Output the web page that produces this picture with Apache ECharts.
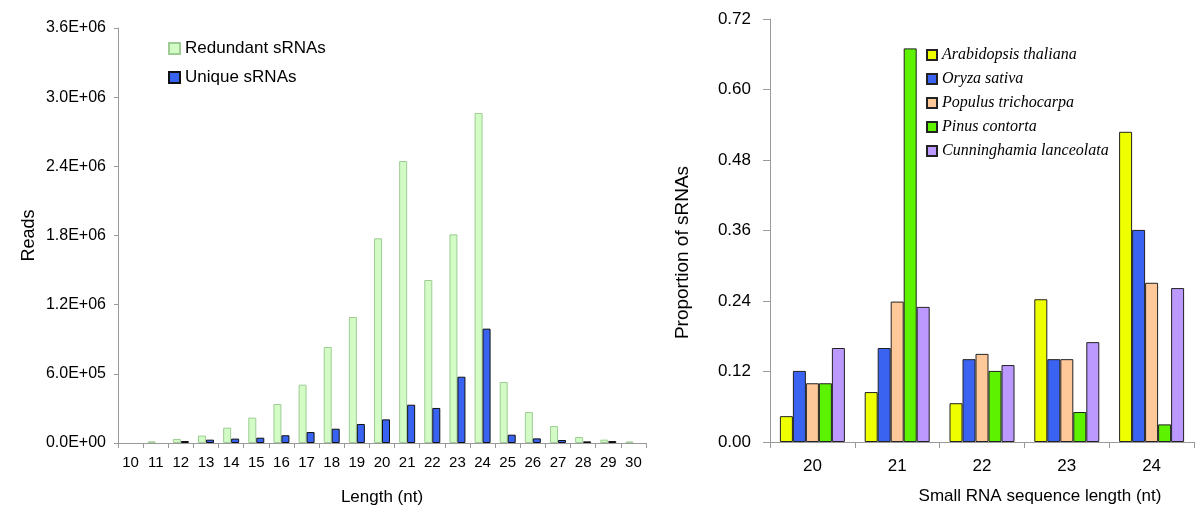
<!DOCTYPE html>
<html>
<head>
<meta charset="utf-8">
<script src="https://cdn.jsdelivr.net/npm/echarts@6/dist/echarts.min.js"></script>
<style>
html,body{margin:0;padding:0;background:#fff;}
#chart{width:1200px;height:522px;}
</style>
</head>
<body>
<div id="chart"></div>
<script>
// Left panel data (null = no bar drawn)
var lengthCategories = ['10','11','12','13','14','15','16','17','18','19','20','21','22','23','24','25','26','27','28','29','30'];
var redundantReads = [null, 14000, 35000, 64000, 133000, 220000, 338000, 506000, 833000, 1093000, 1776000, 2446000, 1414000, 1810000, 2863000, 529000, 269000, 147000, 52000, 29000, 13000];
var uniqueReads = [null, null, 17000, 29000, 38000, 46000, 67000, 95000, 124000, 165000, 205000, 332000, 304000, 575000, 992000, 72000, 40000, 26000, 14000, 17000, null];

// Right panel data
var rightCategories = ['20','21','22','23','24'];
var arabidopsis = [0.044, 0.085, 0.066, 0.243, 0.528];
var oryza = [0.121, 0.160, 0.141, 0.141, 0.361];
var populus = [0.100, 0.239, 0.150, 0.141, 0.271];
var pinus = [0.100, 0.670, 0.121, 0.051, 0.030];
var cunninghamia = [0.160, 0.230, 0.131, 0.170, 0.262];

function sci(v){
  if (Math.abs(v) < 1e-9) return '0.0E+00';
  var e = Math.floor(Math.log10(v) + 1e-9);
  var m = v / Math.pow(10, e);
  return m.toFixed(1) + 'E+' + (e < 10 ? '0' : '') + e;
}

var sans = 'Liberation Sans, Arial, sans-serif';
var serif = 'Liberation Serif, Times New Roman, serif';
var axisGray = '#9a9a9a';

var chart = echarts.init(document.getElementById('chart'));
var option = {
  backgroundColor: '#fff',
  animation: false,
  legend: [
    {
      data: ['Redundant sRNAs', 'Unique sRNAs'],
      orient: 'vertical',
      left: 163,
      top: 35,
      itemWidth: 11,
      itemHeight: 11,
      itemGap: 12,
      itemTextGap: 7,
      icon: 'rect',
      textStyle: {fontFamily: sans, fontSize: 17, color: '#000', lineHeight: 17}
    },
    {
      data: ['Arabidopsis thaliana', 'Oryza sativa', 'Populus trichocarpa', 'Pinus contorta', 'Cunninghamia lanceolata'],
      orient: 'vertical',
      left: 921,
      top: 42,
      itemWidth: 10,
      itemHeight: 10,
      itemGap: 8,
      itemTextGap: 3,
      icon: 'rect',
      textStyle: {fontFamily: serif, fontStyle: 'italic', fontSize: 16, color: '#000', lineHeight: 16}
    }
  ],
  grid: [
    {left: 118, right: 554, top: 28, bottom: 79},
    {left: 770, right: 6, top: 19, bottom: 80}
  ],
  xAxis: [
    {
      gridIndex: 0, type: 'category', data: lengthCategories,
      name: 'Length (nt)', nameLocation: 'middle', nameGap: 46,
      nameTextStyle: {fontFamily: sans, fontSize: 17, color: '#000'},
      axisLine: {lineStyle: {color: axisGray, width: 1}},
      axisTick: {show: true, interval: 0, length: 5, lineStyle: {color: axisGray}},
      axisLabel: {interval: 0, margin: 12, fontFamily: sans, fontSize: 15, color: '#000'}
    },
    {
      gridIndex: 1, type: 'category', data: rightCategories,
      name: 'Small RNA sequence length (nt)', nameLocation: 'middle', nameGap: 46,
      nameTextStyle: {fontFamily: sans, fontSize: 17, color: '#000', padding: [0, 0, 0, 116]},
      axisLine: {lineStyle: {color: axisGray, width: 1}},
      axisTick: {show: true, interval: 0, length: 6, lineStyle: {color: axisGray}},
      axisLabel: {interval: 0, margin: 16, fontFamily: sans, fontSize: 17, color: '#000'}
    }
  ],
  yAxis: [
    {
      gridIndex: 0, type: 'value', min: 0, max: 3600000, interval: 600000,
      name: 'Reads', nameLocation: 'middle', nameGap: 80, nameRotate: 90,
      nameTextStyle: {fontFamily: sans, fontSize: 18, color: '#000'},
      axisLine: {show: true, lineStyle: {color: axisGray, width: 1}},
      axisTick: {show: true, length: 4, lineStyle: {color: axisGray}},
      splitLine: {show: false},
      axisLabel: {margin: 12, fontFamily: sans, fontSize: 16, color: '#000', formatter: sci}
    },
    {
      gridIndex: 1, type: 'value', min: 0, max: 0.72, interval: 0.12,
      name: 'Proportion of sRNAs', nameLocation: 'middle', nameGap: 78, nameRotate: 90,
      nameTextStyle: {fontFamily: sans, fontSize: 19, color: '#000', padding: [0, 44, 0, 0]},
      axisLine: {show: true, lineStyle: {color: axisGray, width: 1}},
      axisTick: {show: true, length: 7, lineStyle: {color: axisGray}},
      splitLine: {show: false},
      axisLabel: {margin: 19, fontFamily: sans, fontSize: 17, color: '#000', formatter: function(v){return v.toFixed(2);}}
    }
  ],
  series: [
    {name: 'Redundant sRNAs', type: 'bar', xAxisIndex: 0, yAxisIndex: 0, data: redundantReads,
     barWidth: 8, barGap: '0%', itemStyle: {color: '#d2fbc6', borderColor: '#9fcc94', borderWidth: 1}},
    {name: 'Unique sRNAs', type: 'bar', xAxisIndex: 0, yAxisIndex: 0, data: uniqueReads,
     barWidth: 8, barGap: '0%', itemStyle: {color: '#3763f0', borderColor: '#111', borderWidth: 1}},
    {name: 'Arabidopsis thaliana', type: 'bar', xAxisIndex: 1, yAxisIndex: 1, data: arabidopsis,
     barWidth: 13, barGap: '0%', itemStyle: {color: '#eeff00', borderColor: '#222', borderWidth: 1}},
    {name: 'Oryza sativa', type: 'bar', xAxisIndex: 1, yAxisIndex: 1, data: oryza,
     barWidth: 13, barGap: '0%', itemStyle: {color: '#3a63f2', borderColor: '#222', borderWidth: 1}},
    {name: 'Populus trichocarpa', type: 'bar', xAxisIndex: 1, yAxisIndex: 1, data: populus,
     barWidth: 13, barGap: '0%', itemStyle: {color: '#ffc898', borderColor: '#222', borderWidth: 1}},
    {name: 'Pinus contorta', type: 'bar', xAxisIndex: 1, yAxisIndex: 1, data: pinus,
     barWidth: 13, barGap: '0%', itemStyle: {color: '#5cf200', borderColor: '#222', borderWidth: 1}},
    {name: 'Cunninghamia lanceolata', type: 'bar', xAxisIndex: 1, yAxisIndex: 1, data: cunninghamia,
     barWidth: 13, barGap: '0%', itemStyle: {color: '#bb99ff', borderColor: '#222', borderWidth: 1}}
  ]
};
chart.setOption(option);
</script>
</body>
</html>
